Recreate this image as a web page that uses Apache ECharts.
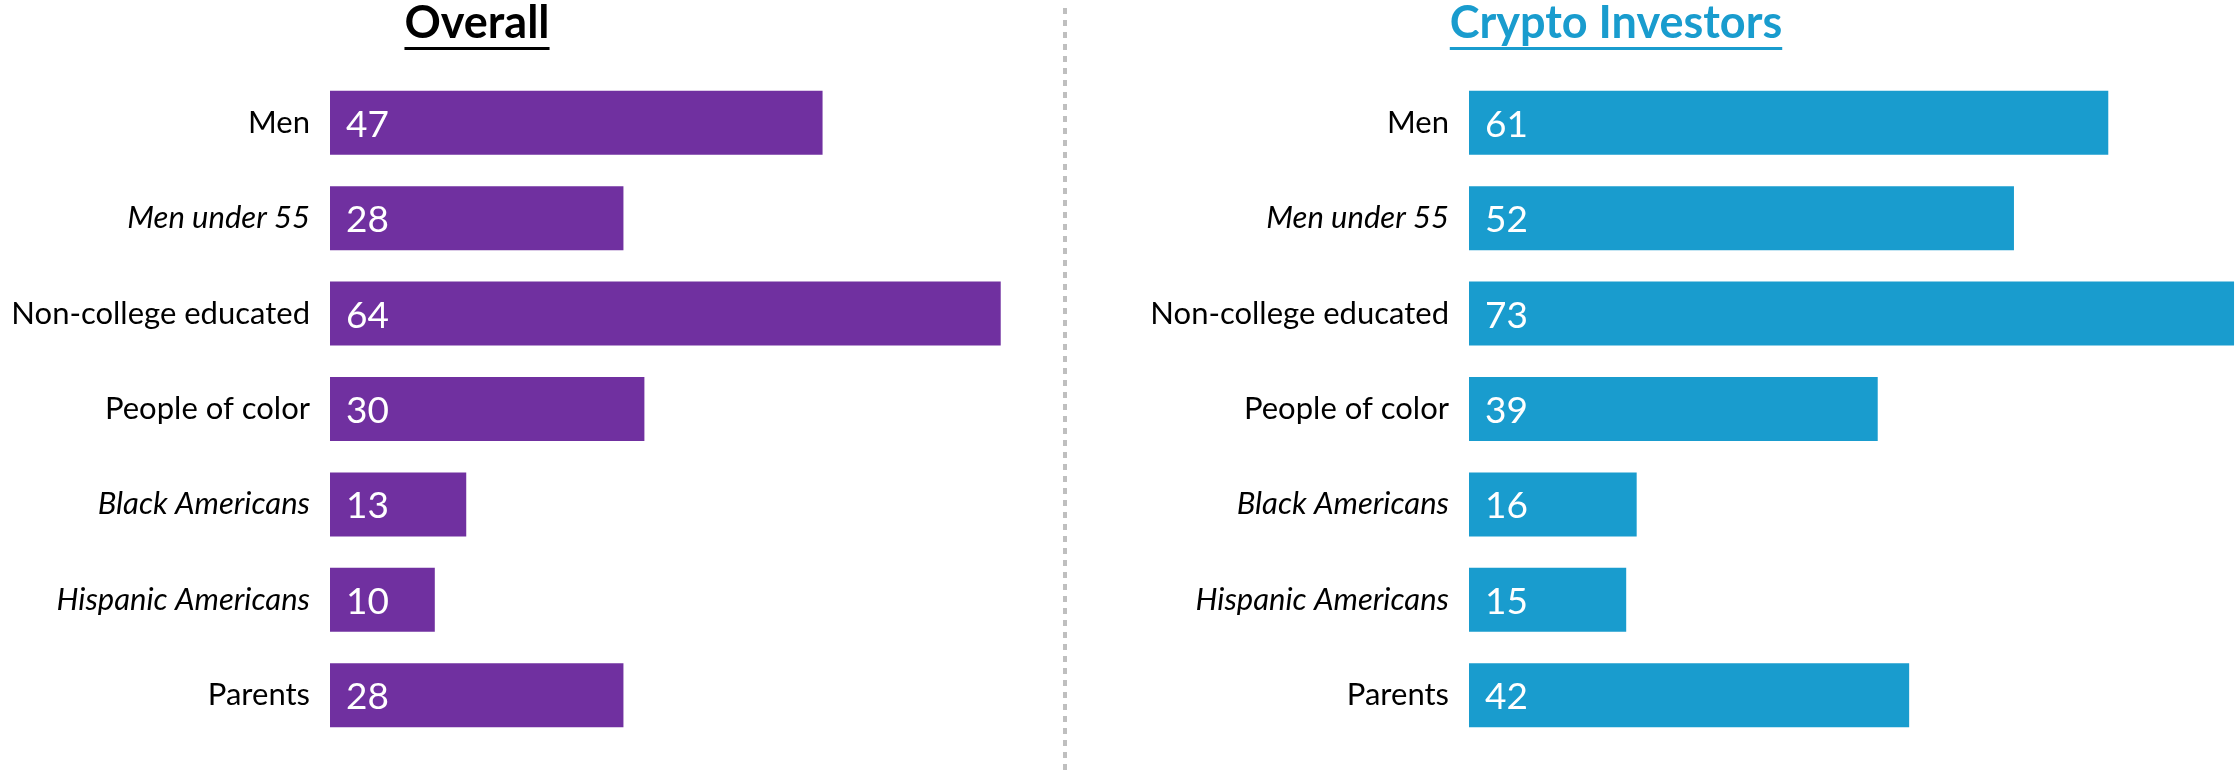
<!DOCTYPE html>
<html>
<head>
<meta charset="utf-8">
<script src="https://cdn.jsdelivr.net/npm/echarts@6/dist/echarts.min.js"></script>
<style>
html,body{margin:0;padding:0;background:#fff;}
#chart{width:2240px;height:771px;}
</style>
</head>
<body>
<div id="chart"></div>
<script>
const categories = ['Men', 'Men under 55', 'Non-college educated', 'People of color', 'Black Americans', 'Hispanic Americans', 'Parents'];
const italicCats = ['Men under 55', 'Black Americans', 'Hispanic Americans'];
const overallValues = [47, 28, 64, 30, 13, 10, 28];
const cryptoValues = [61, 52, 73, 39, 16, 15, 42];
const panelTitles = ['Overall', 'Crypto Investors'];

const PX_PER_UNIT = 10.48;
const FONT = 'Lato, "Open Sans", sans-serif';
const purple = '#7030A0';
const blue = '#199CCE';

function measure(text, font) {
  const c = document.createElement('canvas').getContext('2d');
  c.font = font;
  return c.measureText(text).width;
}

const chart = echarts.init(document.getElementById('chart'), null, {renderer: 'canvas'});

function yAxisCfg(gridIndex) {
  return {
    type: 'category', gridIndex: gridIndex, data: categories, inverse: true,
    axisLine: {show: false}, axisTick: {show: false}, splitLine: {show: false},
    axisLabel: {
      margin: 20, color: '#000', fontSize: 31, fontFamily: FONT,
      formatter: function (v) { return italicCats.indexOf(v) >= 0 ? '{i|' + v + '}' : v; },
      rich: {i: {fontStyle: 'italic', fontSize: 31, fontFamily: FONT, color: '#000'}}
    }
  };
}
function xAxisCfg(gridIndex, max) {
  return {type: 'value', gridIndex: gridIndex, min: 0, max: max, show: false};
}
function seriesCfg(idx, data, color) {
  return {
    type: 'bar', xAxisIndex: idx, yAxisIndex: idx, data: data, barWidth: 64,
    itemStyle: {color: color}, silent: true, animation: false,
    label: {show: true, position: 'insideLeft', offset: [11, 2], color: '#fff', fontSize: 37, fontFamily: FONT}
  };
}

const leftMax = 70, rightMax = 73;
const titleFont = 'bold 45px ' + FONT;
const w0 = measure(panelTitles[0], titleFont);
const w1 = measure(panelTitles[1], titleFont);
const t0x = 477, t1x = 1616;
const titleBase = 46;

chart.setOption({
  animation: false,
  grid: [
    {left: 330, top: 75, width: leftMax * PX_PER_UNIT, height: 668},
    {left: 1469, top: 75, width: rightMax * PX_PER_UNIT, height: 668}
  ],
  xAxis: [xAxisCfg(0, leftMax), xAxisCfg(1, rightMax)],
  yAxis: [yAxisCfg(0), yAxisCfg(1)],
  series: [seriesCfg(0, overallValues, purple), seriesCfg(1, cryptoValues, blue)],
  graphic: [
    {type: 'line', shape: {x1: 1065, y1: 8, x2: 1065, y2: 771}, style: {stroke: '#bfbfbf', lineWidth: 4, lineDash: [6, 6]}},
    {type: 'text', x: t0x, y: titleBase, style: {text: panelTitles[0], font: titleFont, fill: '#000', align: 'center', verticalAlign: 'bottom'}},
    {type: 'rect', shape: {x: t0x - w0 / 2, y: titleBase + 1, width: w0, height: 3}, style: {fill: '#000'}},
    {type: 'text', x: t1x, y: titleBase, style: {text: panelTitles[1], font: titleFont, fill: blue, align: 'center', verticalAlign: 'bottom'}},
    {type: 'rect', shape: {x: t1x - w1 / 2, y: titleBase + 1, width: w1, height: 3}, style: {fill: blue}}
  ]
});
</script>
</body>
</html>
